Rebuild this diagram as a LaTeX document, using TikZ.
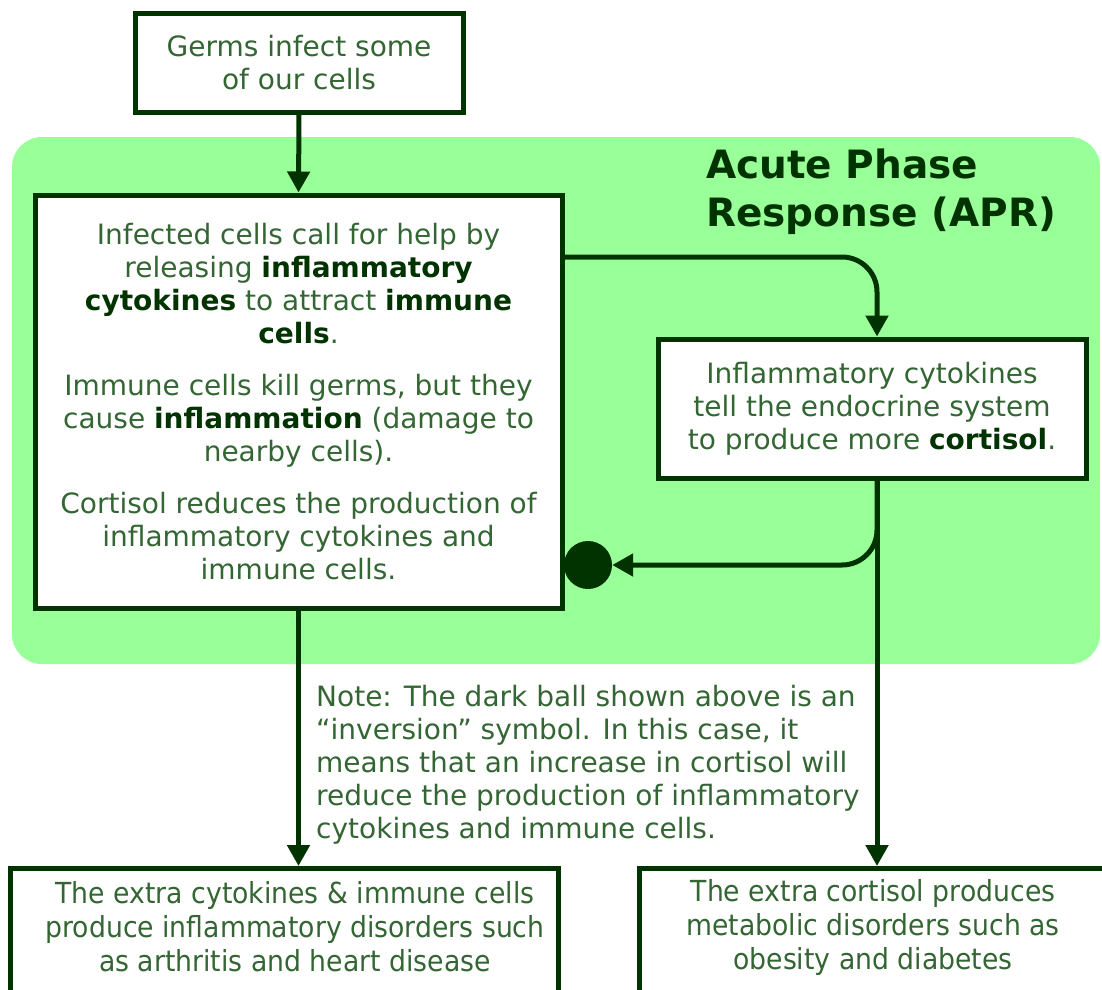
\documentclass[tikz,border=0pt]{standalone}
\usepackage{fontspec}
\setmainfont{DejaVu Sans}
\newfontfamily\condfont[FakeStretch=0.92]{DejaVu Sans}
\usetikzlibrary{arrows.meta,calc}
\definecolor{linegreen}{HTML}{003300}
\definecolor{txtgreen}{HTML}{346634}
\definecolor{apr}{HTML}{99FF99}
\newcommand{\bt}[1]{\textbf{\color{linegreen}#1}}
\begin{document}
\begin{tikzpicture}[x=1pt,y=-1pt,
  box/.style={draw=linegreen,line width=5pt,fill=white,text=txtgreen,align=center,inner sep=0pt},
  arr/.style={draw=linegreen,line width=5pt,-{Triangle[width=22pt,length=21pt]}},
  bodytxt/.style={font=\fontsize{28}{33}\selectfont},
  bottxt/.style={font=\condfont\fontsize{29}{34}\selectfont}]
\clip (0,0) rectangle (1102,989);
\fill[white] (0,0) rectangle (1102,989);
\fill[apr,rounded corners=30] (12,137) rectangle (1100,664);
\node[text=linegreen,font=\bfseries\fontsize{39}{48}\selectfont,align=left,anchor=north west,inner sep=0pt] (title) at (706,149) {Acute Phase\\Response (APR)};
\node[box,bodytxt,minimum width=328pt,minimum height=99pt] (germs) at (299,62.5) {Germs infect some\\of our cells};
\node[box,bodytxt,minimum width=527pt,minimum height=413pt] (main) at (298.5,401.5)
 {Infected cells call for help by\\releasing \bt{inflammatory}\\\bt{cytokines} to attract \bt{immune}\\\bt{cells}.\\[19pt]
 Immune cells kill germs, but they\\cause \bt{inflammation} (damage to\\nearby cells).\\[19pt]
 Cortisol reduces the production of\\inflammatory cytokines and\\immune cells.};
\node[box,bodytxt,minimum width=428pt,minimum height=139pt] (cort) at (872,408.5)
 {Inflammatory cytokines\\tell the endocrine system\\to produce more \bt{cortisol}.};
\node[box,minimum width=548pt,minimum height=200pt,anchor=north] (bl) at (284,866) {};
\node[text=txtgreen,bottxt,align=center,inner sep=0pt] (bltxt) at (295,927) {The extra cytokines \& immune cells\\produce inflammatory disorders such\\as arthritis and heart disease};
\node[box,minimum width=500pt,minimum height=200pt,anchor=north west] (br) at (637,866) {};
\node[text=txtgreen,bottxt,align=center,inner sep=0pt] (brtxt) at (873,927) {The extra cortisol produces\\metabolic disorders such as\\obesity and diabetes};
\node[circle,fill=linegreen,minimum size=48pt,inner sep=0pt] (ball) at (588,565) {};
\node[text=txtgreen,bodytxt,align=left,anchor=north west,inner sep=0pt] (note) at (316,685)
 {Note: The dark ball shown above is an\\``inversion'' symbol. In this case, it\\means that an increase in cortisol will\\reduce the production of inflammatory\\cytokines and immune cells.};
\coordinate (tap) at (877,257);
\draw[arr] (germs.south) -- (main.north);
\draw[arr,rounded corners=35] (main.east |- tap) -| (cort.north -| tap);
\draw[arr,rounded corners=35] (cort.south -| tap) |- (ball.east);
\draw[arr] (cort.south -| tap) -- (br.north -| tap);
\draw[arr] (main.south) -- (bl.north -| main.south);
\end{tikzpicture}
\end{document}
